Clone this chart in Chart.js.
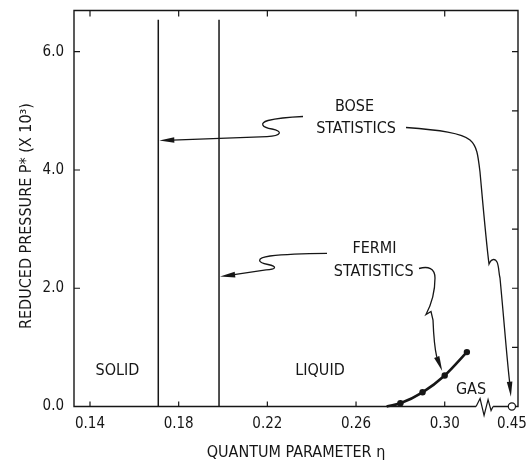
<!DOCTYPE html>
<html>
<head>
<meta charset="utf-8">
<script src="https://cdn.jsdelivr.net/npm/chart.js@4.4.1/dist/chart.umd.min.js"></script>
<style>
  html, body { margin: 0; padding: 0; background: #fff; }
  #wrap { width: 526px; height: 465px; position: relative; }
</style>
</head>
<body>
<div id="wrap"><canvas id="phaseChart"></canvas></div>
<script>
// melting lines: Bose statistics first, Fermi statistics second
const meltEta = [0.1708, 0.1982];
const meltTop = 6.54;

// Fermi liquid-gas curve (first point is where the curve leaves the axis)
const fermiEta = [0.2738, 0.28, 0.29, 0.30, 0.31];
const fermiP = [0.0, 0.056, 0.24, 0.525, 0.92];

// Bose point, sits past the axis break in the "0.45" slot
const boseEta = [0.3303];
const boseP = [0.0];

const xTickValues = [0.14, 0.18, 0.22, 0.26, 0.30, 0.3303];
const xTickLabels = ['0.14', '0.18', '0.22', '0.26', '0.30', '0.45'];
const yTickValues = [0, 1, 2, 3, 4, 5, 6];
const yTickLabels = ['0.0', '', '2.0', '', '4.0', '', '6.0'];

const breakEta = 0.3182;

const ink = '#161616';
const FONT = "'Liberation Sans Narrow', 'DejaVu Sans Condensed', 'Arial Narrow', sans-serif";

function head(ctx, tx, ty, bx, by) {
  // filled arrow head, tip at (tx,ty), base centre at (bx,by)
  const dx = tx - bx, dy = ty - by;
  const len = Math.hypot(dx, dy);
  const nx = -dy / len * 2.8, ny = dx / len * 2.8;
  ctx.beginPath();
  ctx.moveTo(tx, ty);
  ctx.lineTo(bx + nx, by + ny);
  ctx.lineTo(bx - nx, by - ny);
  ctx.closePath();
  ctx.fill();
}

const framePlugin = {
  id: 'frame',
  beforeDatasetsDraw(chart) {
    const {ctx, chartArea: a, scales: {x, y}} = chart;
    const bx = x.getPixelForValue(breakEta);
    ctx.save();
    ctx.strokeStyle = ink;
    ctx.lineWidth = 1.4;
    ctx.beginPath();
    ctx.moveTo(bx - 9, a.bottom);
    ctx.lineTo(a.left, a.bottom);
    ctx.lineTo(a.left, a.top);
    ctx.lineTo(a.right, a.top);
    ctx.lineTo(a.right, a.bottom);
    ctx.lineTo(bx + 8, a.bottom);
    ctx.stroke();

    // axis break
    ctx.lineWidth = 1.2;
    ctx.beginPath();
    ctx.moveTo(bx - 9, a.bottom);
    ctx.lineTo(bx - 5, a.bottom - 8);
    ctx.lineTo(bx - 1, a.bottom + 9);
    ctx.lineTo(bx + 3, a.bottom - 7);
    ctx.lineTo(bx + 6, a.bottom + 4);
    ctx.lineTo(bx + 8, a.bottom);
    ctx.stroke();

    // inward ticks
    ctx.beginPath();
    xTickValues.forEach(v => {
      if (v > breakEta) return;
      const px = x.getPixelForValue(v);
      ctx.moveTo(px, a.bottom); ctx.lineTo(px, a.bottom - 5);
      ctx.moveTo(px, a.top); ctx.lineTo(px, a.top + 6);
    });
    yTickValues.forEach((v, i) => {
      if (v === 0) return;
      const py = y.getPixelForValue(v);
      ctx.moveTo(a.right, py); ctx.lineTo(a.right - 6, py);
      if (yTickLabels[i]) { ctx.moveTo(a.left, py); ctx.lineTo(a.left + 6, py); }
    });
    ctx.stroke();
    ctx.restore();
  },
  afterDatasetsDraw(chart) {
    const {ctx, scales: {x, y}} = chart;
    ctx.save();
    ctx.strokeStyle = ink;
    ctx.fillStyle = ink;
    ctx.lineWidth = 1.3;

    // Bose -> melting line
    const t1x = x.getPixelForValue(meltEta[0]) + 1, t1y = y.getPixelForValue(4.5);
    ctx.beginPath();
    ctx.moveTo(303, 116.5);
    ctx.quadraticCurveTo(280, 117.5, 268, 120.5);
    ctx.bezierCurveTo(259, 123, 262, 127.5, 272, 129);
    ctx.bezierCurveTo(283, 131, 282, 136, 267, 136.7);
    ctx.lineTo(t1x + 13, t1y - 0.3);
    ctx.stroke();
    head(ctx, t1x, t1y, t1x + 15, t1y - 0.4);

    // Fermi -> melting line
    const t2x = x.getPixelForValue(meltEta[1]) + 1, t2y = y.getPixelForValue(2.2);
    ctx.beginPath();
    ctx.moveTo(327, 253.3);
    ctx.quadraticCurveTo(290, 253.5, 270, 256);
    ctx.bezierCurveTo(256, 258, 257, 262.5, 268, 264.5);
    ctx.bezierCurveTo(278, 266.5, 276, 269.5, 266, 269.8);
    ctx.lineTo(t2x + 14, t2y - 1.7);
    ctx.stroke();
    head(ctx, t2x, t2y, t2x + 15, t2y - 1.8);

    // Bose -> gas point
    const t3x = x.getPixelForValue(boseEta[0]) - 1, t3y = y.getPixelForValue(boseP[0]) - 9.8;
    ctx.beginPath();
    ctx.moveTo(406, 127.5);
    ctx.bezierCurveTo(440, 130, 462, 133, 470, 140);
    ctx.bezierCurveTo(477, 146, 478, 155, 480, 172);
    ctx.bezierCurveTo(483, 205, 486, 240, 489, 264);
    ctx.bezierCurveTo(491, 259, 495, 258, 497, 262);
    ctx.bezierCurveTo(499, 266, 498.5, 272, 500, 278);
    ctx.bezierCurveTo(504, 320, 507, 360, t3x - 1.2, t3y - 14);
    ctx.stroke();
    head(ctx, t3x, t3y, t3x - 1.3, t3y - 15);

    // Fermi -> liquid-gas curve
    const t4x = x.getPixelForValue(fermiEta[3]) - 2.5, t4y = y.getPixelForValue(fermiP[3]) - 4.5;
    ctx.beginPath();
    ctx.moveTo(419, 268.5);
    ctx.bezierCurveTo(428, 266, 435, 268, 435, 278);
    ctx.bezierCurveTo(435, 292, 431, 305, 426, 314.5);
    ctx.lineTo(431, 311.5);
    ctx.lineTo(433, 320);
    ctx.bezierCurveTo(433.5, 333, 434, 345, t4x - 5.5, t4y - 14);
    ctx.stroke();
    head(ctx, t4x, t4y, t4x - 5.5, t4y - 14);

    // labels
    ctx.font = '16px ' + FONT;
    ctx.textAlign = 'center';
    ctx.textBaseline = 'alphabetic';
    ctx.fillText('BOSE', 354.5, 111);
    ctx.fillText('STATISTICS', 356, 133.3);
    ctx.fillText('FERMI', 374.5, 253.3);
    ctx.fillText('STATISTICS', 373.7, 275.7);
    ctx.fillText('SOLID', 117.5, 375);
    ctx.fillText('LIQUID', 320, 375);
    ctx.fillText('GAS', 471, 394);

    // y axis title
    ctx.translate(26.5, 216);
    ctx.rotate(-Math.PI / 2);
    ctx.textBaseline = 'middle';
    ctx.fillText('REDUCED PRESSURE P* (X 10³)', 0, 0);
    ctx.restore();
  }
};

const datasets = [];
meltEta.forEach(e => datasets.push({
  data: [{x: e, y: 0}, {x: e, y: meltTop}],
  showLine: true, borderColor: ink, borderWidth: 1.5, pointRadius: 0, clip: false
}));
datasets.push({
  data: fermiEta.map((e, i) => ({x: e, y: fermiP[i]})),
  showLine: true, borderColor: ink, borderWidth: 2.6,
  cubicInterpolationMode: 'monotone',
  pointRadius: fermiEta.map((e, i) => i === 0 ? 0 : 3.2),
  pointBackgroundColor: ink, pointBorderWidth: 0, clip: false
});
datasets.push({
  data: boseEta.map((e, i) => ({x: e, y: boseP[i]})),
  showLine: false, pointRadius: 3.6,
  pointBackgroundColor: '#fff', pointBorderColor: ink, pointBorderWidth: 1.2, clip: false
});

const phaseChart = new Chart(document.getElementById('phaseChart'), {
  type: 'scatter',
  data: { datasets: datasets },
  options: {
    responsive: true,
    maintainAspectRatio: false,
    animation: false,
    layout: { padding: { top: 10.5, right: 8, left: 0, bottom: 0 } },
    plugins: { legend: { display: false }, tooltip: { enabled: false } },
    scales: {
      x: {
        type: 'linear',
        min: 0.14 - 16 / 2217,
        max: 0.14 + 428 / 2217,
        grid: { display: false },
        border: { display: false },
        afterFit: s => { s.height = 58.5; s.paddingLeft = 0; s.paddingRight = 0; },
        afterBuildTicks: s => { s.ticks = xTickValues.map(v => ({value: v})); },
        ticks: {
          autoSkip: false, maxRotation: 0, padding: 1, color: ink,
          font: { family: FONT, size: 15 },
          callback: (v, i) => xTickLabels[i]
        },
        title: {
          display: true, text: 'QUANTUM PARAMETER η', color: ink,
          font: { family: FONT, size: 16 }, padding: { top: 0, bottom: 3 }
        }
      },
      y: {
        type: 'linear',
        min: 0,
        max: 396 / 59.13,
        grid: { display: false },
        border: { display: false },
        afterFit: s => { s.width = 74; s.paddingTop = 0; s.paddingBottom = 0; },
        afterBuildTicks: s => { s.ticks = yTickValues.map(v => ({value: v})); },
        ticks: {
          autoSkip: false, padding: 2, color: ink,
          font: { family: FONT, size: 15 },
          callback: (v, i) => yTickLabels[i]
        }
      }
    }
  },
  plugins: [framePlugin]
});
</script>
</body>
</html>
